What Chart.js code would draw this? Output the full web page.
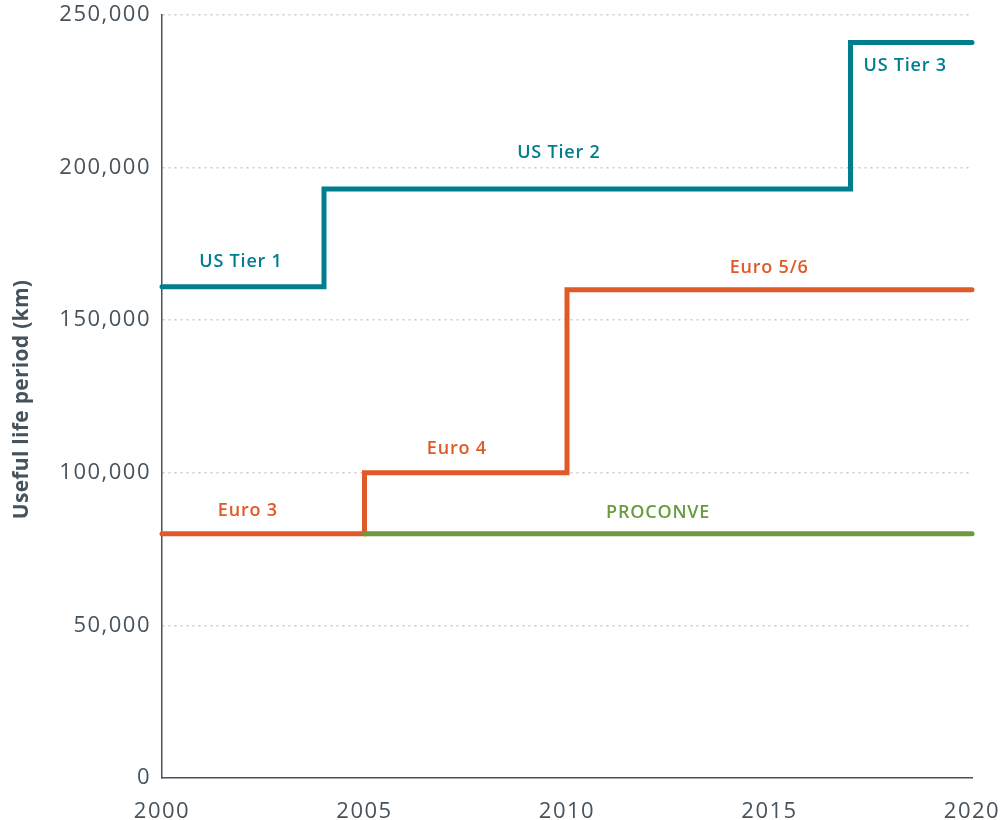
<!DOCTYPE html>
<html>
<head>
<meta charset="utf-8">
<script src="https://cdn.jsdelivr.net/npm/chart.js@4/dist/chart.umd.min.js"></script>
<style>
  html, body { margin: 0; padding: 0; background: #ffffff; }
  #wrap { width: 1000px; height: 820px; position: relative; }
</style>
</head>
<body>
<div id="wrap"><canvas id="c" width="1000" height="820"></canvas></div>
<script>
// ---- data ----
const usYears = [2000, 2004, 2017, 2020];
const usValues = [161000, 193000, 241000, 241000];
const euroYears = [2000, 2005, 2010, 2020];
const euroValues = [80000, 100000, 160000, 160000];
const proconveYears = [2005, 2020];
const proconveValues = [80000, 80000];
const xTicks = [2000, 2005, 2010, 2015, 2020];
const yTicks = [0, 50000, 100000, 150000, 200000, 250000];
const yTitle = 'Useful life period (km)';

// in-chart labels (data coordinates)
const labelTexts = ['US Tier 1', 'US Tier 2', 'US Tier 3', 'Euro 3', 'Euro 4', 'Euro 5/6', 'PROCONVE'];
const labelYears = [2001.95, 2009.8, 2018.35, 2002.12, 2007.28, 2014.99, 2012.25];
const labelValues = [169100, 204800, 233300, 87500, 107800, 167100, 86800];
const labelSeries = ['us', 'us', 'us', 'euro', 'euro', 'euro', 'proconve'];

const colors = { us: '#007e8f', euro: '#e05a27', proconve: '#6c9a3e' };
const AXIS = '#46525c';
const FONT = '"Open Sans", "DejaVu Sans", sans-serif';

const toPts = (xs, ys) => xs.map((x, i) => ({ x: x, y: ys[i] }));

const spacingPlugin = {
  id: 'spacing',
  beforeDraw(chart) { chart.ctx.letterSpacing = '1.5px'; }
};

const labelPlugin = {
  id: 'stepLabels',
  afterDatasetsDraw(chart) {
    const { ctx, chartArea, scales: { x, y } } = chart;
    ctx.save();
    ctx.letterSpacing = '0.8px';
    ctx.font = '600 18px ' + FONT;
    ctx.textAlign = 'center';
    ctx.textBaseline = 'middle';
    labelTexts.forEach((t, i) => {
      ctx.fillStyle = colors[labelSeries[i]];
      ctx.fillText(t, x.getPixelForValue(labelYears[i]), y.getPixelForValue(labelValues[i]));
    });
    ctx.restore();
    // y-axis title
    ctx.save();
    ctx.letterSpacing = '0.3px';
    ctx.font = '700 21px ' + FONT;
    ctx.fillStyle = AXIS;
    ctx.textAlign = 'center';
    ctx.textBaseline = 'middle';
    ctx.translate(22, (chartArea.top + chartArea.bottom) / 2 + 3);
    ctx.rotate(-Math.PI / 2);
    ctx.fillText(yTitle, 0, 0);
    ctx.restore();
  }
};

const lineDs = (label, pts, color) => ({
  label: label,
  data: pts,
  borderColor: color,
  backgroundColor: color,
  borderWidth: 5,
  stepped: true,
  pointRadius: 0,
  pointHoverRadius: 0,
  fill: false,
  borderCapStyle: 'round',
  borderJoinStyle: 'miter',
  clip: false,
  tension: 0
});

const zeroPad = s => { s.paddingTop = 0; s.paddingBottom = 0; s.paddingLeft = 0; s.paddingRight = 0; };

new Chart(document.getElementById('c'), {
  type: 'line',
  data: {
    datasets: [
      lineDs('PROCONVE', toPts(proconveYears, proconveValues), colors.proconve),
      lineDs('Euro', toPts(euroYears, euroValues), colors.euro),
      lineDs('US', toPts(usYears, usValues), colors.us)
    ]
  },
  options: {
    responsive: false,
    animation: false,
    devicePixelRatio: 1,
    layout: { padding: { top: 15, right: 28, left: 0, bottom: 0 } },
    plugins: { legend: { display: false }, tooltip: { enabled: false } },
    scales: {
      x: {
        type: 'linear',
        min: xTicks[0],
        max: xTicks[xTicks.length - 1],
        afterBuildTicks: s => { s.ticks = xTicks.map(v => ({ value: v })); },
        afterFit: s => { s.height = 42; zeroPad(s); },
        grid: { display: false, drawTicks: false },
        border: { display: true, color: AXIS, width: 1.5 },
        ticks: {
          color: AXIS,
          font: { family: FONT, size: 22 },
          padding: 21,
          maxRotation: 0,
          callback: v => String(v)
        }
      },
      y: {
        min: yTicks[0],
        max: yTicks[yTicks.length - 1],
        afterBuildTicks: s => { s.ticks = yTicks.map(v => ({ value: v })); },
        afterFit: s => { s.width = 162; zeroPad(s); },
        grid: { color: c => c.tick && c.tick.value === 0 ? 'rgba(0,0,0,0)' : '#c9c9c9', lineWidth: 1.5, drawTicks: false },
        border: { display: true, color: AXIS, width: 1.5, dash: [2, 4] },
        ticks: {
          color: AXIS,
          font: { family: FONT, size: 22 },
          padding: 11,
          callback: v => v.toLocaleString('en-US')
        },
        title: { display: false }
      }
    }
  },
  plugins: [spacingPlugin, labelPlugin]
});
</script>
</body>
</html>
